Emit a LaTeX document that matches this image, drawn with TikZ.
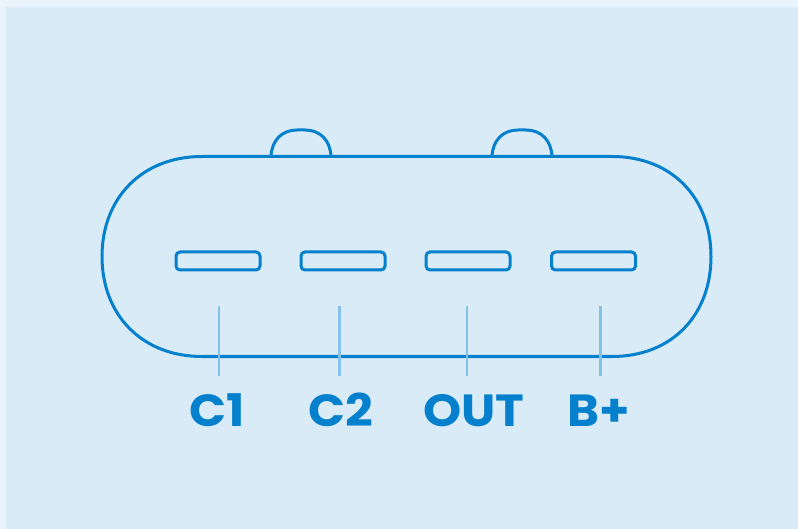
\documentclass[tikz,border=0pt]{standalone}
\usepackage{fontspec}
\setmainfont[FakeStretch=1.08]{Poppins}
\definecolor{pagebg}{HTML}{EAF4FC}
\definecolor{panel}{HTML}{DAEBF8}
\definecolor{ink}{HTML}{0480CC}
\definecolor{lead}{HTML}{85C2E6}
\tikzset{x=1pt,y=-1pt,
 outline/.style={draw=ink,line width=3pt},
 pin/.style={outline,rounded corners=4pt,minimum width=84pt,minimum height=18pt,inner sep=0pt},
 leadline/.style={draw=lead,line width=2.2pt},
 lab/.style={text=ink,font=\fontsize{45}{48}\selectfont\bfseries,inner sep=0pt,anchor=base}}
\begin{document}
\begin{tikzpicture}
\useasboundingbox (0,0) rectangle (798,529);
\fill[pagebg] (0,0) rectangle (798,529);
\fill[panel] (6,7) rectangle (798,529);
\draw[outline] (271,156) .. controls (272,140) and (282,130) .. (297,130) -- (305,130) .. controls (320,130) and (330,140) .. (331,156);
\draw[outline] (492,156) .. controls (493,140) and (503,130) .. (518,130) -- (526,130) .. controls (541,130) and (551,140) .. (552,156);
\draw[outline] (202,156.5) -- (612,156.5) .. controls (672,156.5) and (711,198) .. (711,256.5) .. controls (711,315) and (672,356.5) .. (612,356.5) -- (202,356.5) .. controls (142,356.5) and (102,315) .. (102,256.5) .. controls (102,198) and (142,156.5) .. (202,156.5) -- cycle;
\node[pin] (p1) at (218,261) {};
\node[pin] (p2) at (343,261) {};
\node[pin] (p3) at (468,261) {};
\node[pin] (p4) at (593.5,261) {};
\node[lab] (c1) at (217,426.5) {C1};
\node[lab] (c2) at (341,426.5) {C2};
\node[lab] (out) at (474,426.5) {OUT};
\node[lab] (bp) at (599,426.5) {B+};
\coordinate (t1) at (219,306);\coordinate (e1) at (219,376);
\coordinate (t2) at (339.5,306);\coordinate (e2) at (339.5,376);
\coordinate (t3) at (467,306);\coordinate (e3) at (467,376);
\coordinate (t4) at (600.5,306);\coordinate (e4) at (600.5,376);
\draw[leadline] (t1)--(e1);
\draw[leadline] (t2)--(e2);
\draw[leadline] (t3)--(e3);
\draw[leadline] (t4)--(e4);
\end{tikzpicture}
\end{document}
